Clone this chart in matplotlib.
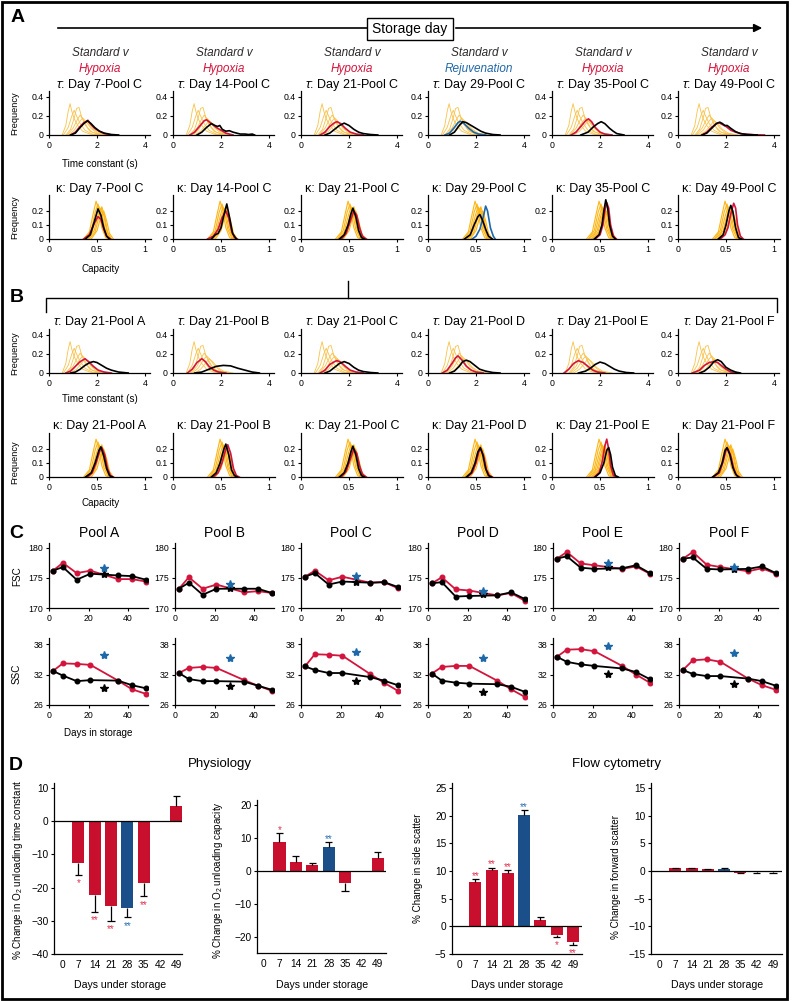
import numpy as np
import matplotlib
matplotlib.use('Agg')
import matplotlib.pyplot as plt
from matplotlib import font_manager as fm
from matplotlib.patches import Rectangle, FancyArrowPatch

names = {f.name for f in fm.fontManager.ttflist}
SANS = 'Liberation Sans'
HAS_NARROW = 'Liberation Sans Narrow' in names
NARROW = 'Liberation Sans Narrow' if HAS_NARROW else 'Liberation Sans'
NK = 1.0 if HAS_NARROW else 0.95   # shrink labels a little when no condensed face

plt.rcParams['font.family'] = [SANS, 'DejaVu Sans']
plt.rcParams['mathtext.fontset'] = 'custom'
plt.rcParams['mathtext.rm'] = SANS
plt.rcParams['mathtext.it'] = SANS + ':italic'
plt.rcParams['axes.linewidth'] = 0.9

RED = '#D3143C'
BLUE = '#1F68A8'
YEL_T = '#F9C24A'
YEL_K = '#FDB515'
BAR_RED = '#C8102E'
BAR_BLUE = '#1B4F8A'
STAR_RED = '#E3304F'
STAR_BLUE = '#2A6EB5'

# ---------------- data: panel A / B distributions (x, freq) ----------------
A_DAYS = [7, 14, 21, 29, 35, 49]
A_TREAT = ['Hypoxia', 'Hypoxia', 'Hypoxia', 'Rejuvenation', 'Hypoxia', 'Hypoxia']
B_POOLS = ['A', 'B', 'C', 'D', 'E', 'F']

# fresh reference distributions (yellow), same in every panel
TAU_REF = [
    [(0.55, 0), (0.7, 0.1), (0.8, 0.25), (0.88, 0.33), (0.95, 0.25), (1.05, 0.17), (1.2, 0.1), (1.4, 0.04), (1.7, 0.01), (2.0, 0)],
    [(0.6, 0), (0.8, 0.08), (0.95, 0.2), (1.05, 0.26), (1.15, 0.2), (1.3, 0.12), (1.5, 0.05), (1.8, 0.01), (2.1, 0)],
    [(0.7, 0), (0.9, 0.06), (1.05, 0.18), (1.15, 0.28), (1.25, 0.29), (1.35, 0.2), (1.5, 0.11), (1.7, 0.04), (2.0, 0.01), (2.3, 0)],
    [(0.75, 0), (1.0, 0.07), (1.2, 0.17), (1.3, 0.21), (1.45, 0.15), (1.6, 0.08), (1.8, 0.03), (2.2, 0)],
    [(0.8, 0), (1.05, 0.05), (1.25, 0.13), (1.4, 0.18), (1.55, 0.14), (1.75, 0.07), (2.0, 0.02), (2.4, 0)],
    [(0.9, 0), (1.15, 0.04), (1.35, 0.1), (1.5, 0.15), (1.65, 0.12), (1.85, 0.06), (2.1, 0.02), (2.5, 0)],
]
KAP_REF = [
    [(0.36, 0), (0.42, 0.05), (0.46, 0.18), (0.49, 0.27), (0.52, 0.2), (0.55, 0.08), (0.59, 0.01), (0.62, 0)],
    [(0.38, 0), (0.44, 0.06), (0.48, 0.19), (0.51, 0.25), (0.54, 0.18), (0.57, 0.07), (0.61, 0.01), (0.64, 0)],
    [(0.39, 0), (0.45, 0.05), (0.49, 0.16), (0.52, 0.23), (0.55, 0.19), (0.58, 0.08), (0.62, 0.01), (0.65, 0)],
    [(0.41, 0), (0.47, 0.06), (0.51, 0.17), (0.54, 0.22), (0.57, 0.17), (0.6, 0.06), (0.64, 0)],
    [(0.42, 0), (0.48, 0.05), (0.52, 0.16), (0.55, 0.23), (0.58, 0.16), (0.61, 0.05), (0.65, 0)],
    [(0.44, 0), (0.5, 0.06), (0.54, 0.16), (0.57, 0.2), (0.6, 0.13), (0.63, 0.04), (0.67, 0)],
]

A_TAU_STD = [
    [(0.9, 0), (1.1, 0.02), (1.3, 0.08), (1.45, 0.12), (1.6, 0.15), (1.75, 0.12), (1.9, 0.08), (2.1, 0.04), (2.3, 0.02), (2.6, 0.005), (2.9, 0)],
    [(1.0, 0), (1.2, 0.03), (1.4, 0.08), (1.6, 0.12), (1.75, 0.1), (1.85, 0.09), (1.95, 0.1), (2.05, 0.06), (2.2, 0.04), (2.35, 0.045), (2.5, 0.03), (2.65, 0.02), (2.8, 0.01), (3.0, 0.01), (3.15, 0.005), (3.3, 0.01), (3.4, 0)],
    [(1.0, 0), (1.2, 0.02), (1.4, 0.06), (1.6, 0.1), (1.8, 0.125), (2.0, 0.1), (2.2, 0.06), (2.4, 0.03), (2.6, 0.015), (2.9, 0.005), (3.2, 0)],
    [(0.9, 0), (1.1, 0.03), (1.3, 0.1), (1.45, 0.14), (1.6, 0.13), (1.8, 0.1), (2.0, 0.07), (2.2, 0.04), (2.4, 0.02), (2.7, 0.005), (3.0, 0)],
    [(1.2, 0), (1.5, 0.03), (1.7, 0.08), (1.9, 0.12), (2.05, 0.14), (2.2, 0.12), (2.4, 0.07), (2.55, 0.04), (2.7, 0.015), (3.0, 0)],
    [(1.0, 0), (1.2, 0.02), (1.4, 0.07), (1.6, 0.12), (1.74, 0.135), (1.85, 0.12), (1.95, 0.1), (2.05, 0.1), (2.2, 0.07), (2.4, 0.035), (2.6, 0.015), (2.9, 0.005), (3.3, 0)],
]
A_TAU_TRT = [
    [(0.9, 0), (1.1, 0.03), (1.3, 0.09), (1.45, 0.13), (1.55, 0.14), (1.62, 0.155), (1.75, 0.11), (1.9, 0.07), (2.1, 0.04), (2.3, 0.015), (2.6, 0)],
    [(0.7, 0), (0.9, 0.03), (1.1, 0.09), (1.3, 0.15), (1.4, 0.16), (1.6, 0.12), (1.8, 0.08), (2.0, 0.05), (2.2, 0.02), (2.5, 0)],
    [(0.8, 0), (1.0, 0.03), (1.2, 0.09), (1.4, 0.13), (1.5, 0.14), (1.65, 0.12), (1.85, 0.07), (2.05, 0.03), (2.3, 0.01), (2.6, 0)],
    [(0.7, 0), (0.9, 0.02), (1.1, 0.08), (1.25, 0.13), (1.35, 0.145), (1.5, 0.12), (1.7, 0.07), (1.9, 0.03), (2.1, 0.01), (2.4, 0)],
    [(0.8, 0), (1.0, 0.03), (1.2, 0.09), (1.4, 0.15), (1.52, 0.17), (1.65, 0.14), (1.8, 0.08), (2.0, 0.03), (2.2, 0.01), (2.5, 0)],
    [(1.0, 0), (1.2, 0.03), (1.4, 0.08), (1.6, 0.12), (1.7, 0.13), (1.85, 0.11), (2.0, 0.09), (2.2, 0.05), (2.4, 0.03), (2.7, 0.01), (3.2, 0.002), (3.6, 0)],
]
A_KAP_STD = [
    [(0.38, 0), (0.43, 0.03), (0.47, 0.12), (0.51, 0.215), (0.54, 0.17), (0.57, 0.08), (0.6, 0.02), (0.63, 0)],
    [(0.4, 0), (0.44, 0.03), (0.47, 0.04), (0.5, 0.08), (0.53, 0.17), (0.56, 0.25), (0.59, 0.15), (0.62, 0.04), (0.64, 0.02), (0.66, 0)],
    [(0.4, 0), (0.45, 0.03), (0.49, 0.1), (0.52, 0.18), (0.54, 0.22), (0.57, 0.16), (0.6, 0.06), (0.63, 0.01), (0.66, 0)],
    [(0.38, 0), (0.44, 0.03), (0.48, 0.1), (0.52, 0.16), (0.54, 0.175), (0.57, 0.13), (0.6, 0.07), (0.63, 0.02), (0.67, 0)],
    [(0.44, 0), (0.49, 0.03), (0.52, 0.1), (0.54, 0.2), (0.56, 0.28), (0.58, 0.22), (0.6, 0.1), (0.63, 0.02), (0.66, 0)],
    [(0.42, 0), (0.47, 0.03), (0.5, 0.1), (0.53, 0.2), (0.55, 0.24), (0.57, 0.2), (0.6, 0.08), (0.63, 0.01), (0.66, 0)],
]
A_KAP_TRT = [
    [(0.36, 0), (0.42, 0.03), (0.47, 0.11), (0.51, 0.16), (0.54, 0.14), (0.57, 0.07), (0.6, 0.02), (0.64, 0)],
    [(0.36, 0), (0.42, 0.02), (0.47, 0.07), (0.51, 0.15), (0.55, 0.2), (0.58, 0.15), (0.61, 0.06), (0.64, 0.01), (0.67, 0)],
    [(0.42, 0), (0.47, 0.04), (0.51, 0.12), (0.55, 0.2), (0.58, 0.17), (0.61, 0.08), (0.64, 0.02), (0.68, 0)],
    [(0.46, 0), (0.5, 0.02), (0.54, 0.07), (0.58, 0.17), (0.6, 0.235), (0.62, 0.2), (0.65, 0.08), (0.68, 0.02), (0.7, 0)],
    [(0.45, 0), (0.5, 0.03), (0.53, 0.1), (0.55, 0.2), (0.57, 0.26), (0.59, 0.22), (0.61, 0.1), (0.64, 0.02), (0.67, 0)],
    [(0.44, 0), (0.49, 0.03), (0.52, 0.08), (0.55, 0.18), (0.58, 0.255), (0.6, 0.22), (0.62, 0.1), (0.65, 0.02), (0.68, 0)],
]

B_TAU_STD = [
    [(0.9, 0), (1.1, 0.01), (1.3, 0.04), (1.5, 0.08), (1.7, 0.11), (1.85, 0.12), (2.0, 0.11), (2.2, 0.08), (2.4, 0.05), (2.6, 0.03), (2.9, 0.01), (3.3, 0)],
    [(0.9, 0), (1.2, 0.01), (1.5, 0.04), (1.8, 0.07), (2.1, 0.08), (2.4, 0.075), (2.7, 0.05), (3.0, 0.03), (3.3, 0.01), (3.6, 0)],
    [(1.0, 0), (1.2, 0.02), (1.4, 0.06), (1.6, 0.1), (1.8, 0.12), (2.0, 0.1), (2.2, 0.06), (2.4, 0.03), (2.6, 0.015), (2.9, 0.005), (3.2, 0)],
    [(0.9, 0), (1.1, 0.02), (1.3, 0.07), (1.45, 0.12), (1.6, 0.135), (1.75, 0.12), (1.95, 0.08), (2.15, 0.04), (2.4, 0.02), (2.7, 0.005), (3.0, 0)],
    [(1.1, 0), (1.4, 0.02), (1.6, 0.05), (1.8, 0.09), (2.0, 0.115), (2.2, 0.1), (2.4, 0.07), (2.6, 0.04), (2.8, 0.02), (3.1, 0.005), (3.4, 0)],
    [(0.9, 0), (1.1, 0.02), (1.3, 0.06), (1.5, 0.12), (1.65, 0.14), (1.8, 0.12), (2.0, 0.06), (2.2, 0.03), (2.4, 0.01), (2.6, 0)],
]
B_TAU_TRT = [
    [(0.7, 0), (0.9, 0.02), (1.1, 0.07), (1.3, 0.12), (1.5, 0.15), (1.65, 0.12), (1.85, 0.07), (2.05, 0.03), (2.3, 0.01), (2.6, 0)],
    [(0.6, 0), (0.8, 0.04), (1.0, 0.11), (1.2, 0.15), (1.35, 0.12), (1.5, 0.07), (1.7, 0.03), (1.9, 0.01), (2.2, 0)],
    [(0.8, 0), (1.0, 0.03), (1.2, 0.09), (1.4, 0.12), (1.5, 0.13), (1.65, 0.115), (1.85, 0.07), (2.05, 0.03), (2.3, 0.01), (2.6, 0)],
    [(0.6, 0), (0.8, 0.03), (1.0, 0.1), (1.15, 0.16), (1.25, 0.18), (1.4, 0.14), (1.6, 0.07), (1.8, 0.03), (2.0, 0.01), (2.3, 0)],
    [(0.5, 0), (0.7, 0.04), (0.9, 0.1), (1.1, 0.13), (1.3, 0.11), (1.5, 0.07), (1.7, 0.03), (1.9, 0.01), (2.2, 0)],
    [(0.6, 0), (0.9, 0.03), (1.1, 0.08), (1.3, 0.11), (1.5, 0.12), (1.65, 0.11), (1.8, 0.08), (2.0, 0.04), (2.2, 0.01), (2.5, 0)],
]
B_KAP_STD = [
    [(0.38, 0), (0.44, 0.03), (0.48, 0.1), (0.52, 0.19), (0.54, 0.215), (0.57, 0.15), (0.6, 0.06), (0.63, 0.01), (0.66, 0)],
    [(0.4, 0), (0.45, 0.03), (0.49, 0.1), (0.53, 0.2), (0.55, 0.235), (0.58, 0.16), (0.61, 0.05), (0.64, 0.01), (0.67, 0)],
    [(0.4, 0), (0.45, 0.03), (0.49, 0.1), (0.52, 0.18), (0.54, 0.22), (0.57, 0.16), (0.6, 0.06), (0.63, 0.01), (0.66, 0)],
    [(0.4, 0), (0.45, 0.03), (0.49, 0.1), (0.52, 0.18), (0.545, 0.21), (0.57, 0.16), (0.6, 0.06), (0.63, 0.01), (0.66, 0)],
    [(0.45, 0), (0.5, 0.03), (0.54, 0.1), (0.57, 0.19), (0.59, 0.21), (0.61, 0.16), (0.63, 0.07), (0.66, 0.01), (0.69, 0)],
    [(0.36, 0), (0.42, 0.03), (0.46, 0.1), (0.49, 0.19), (0.51, 0.21), (0.54, 0.16), (0.57, 0.07), (0.6, 0.02), (0.63, 0)],
]
B_KAP_TRT = [
    [(0.4, 0), (0.45, 0.03), (0.49, 0.1), (0.53, 0.19), (0.55, 0.21), (0.58, 0.16), (0.61, 0.06), (0.64, 0.01), (0.67, 0)],
    [(0.42, 0), (0.47, 0.03), (0.51, 0.1), (0.55, 0.2), (0.57, 0.23), (0.6, 0.17), (0.63, 0.06), (0.66, 0.01), (0.69, 0)],
    [(0.42, 0), (0.47, 0.04), (0.51, 0.12), (0.55, 0.2), (0.58, 0.17), (0.61, 0.08), (0.64, 0.02), (0.68, 0)],
    [(0.41, 0), (0.46, 0.03), (0.5, 0.1), (0.53, 0.18), (0.55, 0.2), (0.58, 0.15), (0.61, 0.05), (0.64, 0.01), (0.67, 0)],
    [(0.44, 0), (0.49, 0.03), (0.52, 0.1), (0.55, 0.22), (0.57, 0.27), (0.59, 0.2), (0.61, 0.08), (0.64, 0.01), (0.67, 0)],
    [(0.37, 0), (0.43, 0.03), (0.47, 0.11), (0.5, 0.19), (0.52, 0.2), (0.55, 0.15), (0.58, 0.06), (0.61, 0.01), (0.64, 0)],
]

# ---------------- data: panel C (flow cytometry over storage) ----------------
C_DAYS = [2, 7, 14, 21, 35, 42, 49]
STAR_DAY = 28
FSC_STD = [
    [176.2, 176.8, 174.7, 175.7, 175.4, 175.3, 174.7],
    [173.2, 174.2, 172.2, 173.2, 173.2, 173.2, 172.5],
    [175.2, 175.8, 173.9, 174.4, 174.2, 174.3, 173.5],
    [174.1, 174.3, 171.9, 172.0, 172.1, 172.6, 171.5],
    [178.2, 178.6, 176.7, 176.5, 176.6, 177.1, 175.8],
    [178.2, 178.4, 176.5, 176.4, 176.5, 176.9, 175.8],
]
FSC_HYP = [
    [176.2, 177.5, 175.8, 176.2, 174.8, 174.8, 174.4],
    [173.2, 175.1, 173.2, 173.9, 172.6, 172.8, 172.5],
    [175.2, 176.2, 174.6, 175.2, 174.2, 174.3, 173.3],
    [174.1, 175.1, 173.1, 172.9, 172.1, 172.5, 171.2],
    [178.2, 179.3, 177.4, 177.1, 176.5, 176.9, 175.7],
    [178.2, 179.3, 177.2, 176.8, 176.1, 176.6, 175.7],
]
FSC_REJ28 = [176.6, 174.0, 175.3, 172.8, 177.5, 176.8]
FSC_STD28 = [175.6, 173.4, 174.3, 172.4, 176.8, 176.4]
SSC_STD = [
    [32.7, 31.8, 30.7, 30.9, 30.8, 29.9, 29.3],
    [32.3, 31.1, 30.7, 30.7, 30.6, 29.8, 29.0],
    [33.6, 32.9, 32.3, 32.3, 31.5, 30.8, 29.9],
    [32.2, 30.8, 30.4, 30.2, 30.1, 29.6, 28.6],
    [35.5, 34.5, 34.0, 33.7, 33.2, 32.5, 31.1],
    [32.9, 32.1, 31.7, 31.7, 31.2, 30.7, 29.8],
]
SSC_HYP = [
    [32.7, 34.2, 34.1, 33.9, 30.8, 29.1, 28.2],
    [32.3, 33.3, 33.5, 33.3, 30.9, 29.8, 28.8],
    [33.6, 36.0, 35.9, 35.7, 32.1, 30.4, 28.8],
    [32.2, 33.5, 33.7, 33.7, 30.8, 29.1, 27.6],
    [35.5, 36.9, 37.0, 36.6, 33.7, 32.0, 30.4],
    [32.9, 34.8, 35.0, 34.5, 31.2, 29.9, 29.0],
]
SSC_REJ28 = [35.8, 35.3, 36.4, 35.2, 37.7, 36.2]
SSC_STD28 = [29.4, 29.8, 30.7, 28.5, 32.1, 30.2]

# ---------------- data: panel D (% change vs standard) ----------------
nan = np.nan
D_DAYS = [0, 7, 14, 21, 28, 35, 42, 49]
TAU_CHG = [nan, -12.7, -22.2, -25.5, -26.1, -18.6, nan, 4.7]
TAU_ERR = [nan, 3.5, 5.1, 4.5, 2.8, 4.0, nan, 3.0]
TAU_SIG = ['', '*', '**', '**', '**', '**', '', '']
CAP_CHG = [nan, 8.7, 2.6, 1.6, 7.2, -3.6, nan, 3.8]
CAP_ERR = [nan, 2.7, 1.9, 0.9, 1.4, 2.5, nan, 1.8]
CAP_SIG = ['', '*', '', '', '**', '', '', '']
SSCD_CHG = [nan, 8.1, 10.2, 9.6, 20.1, 1.2, -1.5, -2.8]
SSCD_ERR = [nan, 0.4, 0.4, 0.5, 0.9, 0.4, 0.4, 0.5]
SSCD_SIG = ['', '**', '**', '**', '**', '', '*', '**']
FSCD_CHG = [nan, 0.5, 0.5, 0.35, 0.45, -0.3, -0.2, -0.25]
FSCD_ERR = [nan, 0.1, 0.1, 0.1, 0.1, 0.1, 0.1, 0.1]
FSCD_SIG = ['', '', '', '', '', '', '', '']
REJ_DAY = 28

# ---------------- layout helpers (pixel based) ----------------
W, H = 792, 1001
fig = plt.figure(figsize=(W / 100, H / 100), dpi=100)
COLS = [49, 173, 301, 428, 552, 678]
C_COLS = [49, 175, 301, 428, 553, 679]


def add_px(left, top, right, bottom):
    return fig.add_axes([left / W, 1 - bottom / H, (right - left) / W, (bottom - top) / H])


def style(ax, size=6.3):
    for s in ['top', 'right']:
        ax.spines[s].set_visible(False)
    ax.tick_params(direction='out', length=2.5, width=0.8, pad=1.5, labelsize=size)


def curve(ax, pts, **kw):
    xs, ys = zip(*pts)
    ax.plot(xs, ys, **kw)


def tau_panel(ax, std, trt, col):
    for r in TAU_REF:
        curve(ax, r, color=YEL_T, lw=0.6)
    curve(ax, trt, color=col, lw=1.2)
    curve(ax, std, color='black', lw=1.2)
    ax.set_xlim(0, 4.2)
    ax.set_ylim(0, 0.463)
    ax.set_xticks([0, 2, 4], ['0', '2', '4'])
    ax.set_yticks([0, 0.2, 0.4], ['0', '0.2', '0.4'])
    style(ax)


def kap_panel(ax, std, trt, col, yt=(0, 0.1, 0.2)):
    for r in KAP_REF:
        curve(ax, r, color=YEL_K, lw=0.8)
    curve(ax, trt, color=col, lw=1.2)
    curve(ax, std, color='black', lw=1.2)
    ax.set_xlim(0, 1.06)
    ax.set_ylim(0, 0.314)
    ax.set_xticks([0, 0.5, 1], ['0', '0.5', '1'])
    ax.set_yticks(list(yt), ['%g' % v for v in yt])
    style(ax)


# Panel A
for i, x0 in enumerate(COLS):
    col = BLUE if A_TREAT[i] == 'Rejuvenation' else RED
    ax = add_px(x0, 91, x0 + 100.8, 135)
    tau_panel(ax, A_TAU_STD[i], A_TAU_TRT[i], col)
    ax = add_px(x0, 195, x0 + 101.8, 239)
    kap_panel(ax, A_KAP_STD[i], A_KAP_TRT[i], col, (0, 0.2) if A_DAYS[i] == 35 else (0, 0.1, 0.2))

# Panel B
for i, x0 in enumerate(COLS):
    ax = add_px(x0, 329, x0 + 100.8, 373)
    tau_panel(ax, B_TAU_STD[i], B_TAU_TRT[i], RED)
    ax = add_px(x0, 433, x0 + 101.8, 477)
    kap_panel(ax, B_KAP_STD[i], B_KAP_TRT[i], RED)

# Panel C
for i, x0 in enumerate(C_COLS):
    for (top, bot, std, hyp, rej, s28, ylim, yt) in [
            (543, 608, FSC_STD, FSC_HYP, FSC_REJ28, FSC_STD28, (170, 180.8), [170, 175, 180]),
            (638, 705, SSC_STD, SSC_HYP, SSC_REJ28, SSC_STD28, (26, 39.2), [26, 32, 38])]:
        ax = add_px(x0, top, x0 + 98.75, bot)
        ax.plot(C_DAYS, hyp[i], color=RED, lw=1.3, marker='o', ms=3.3, mec=RED)
        ax.plot(C_DAYS, std[i], color='black', lw=1.3, marker='o', ms=3.3)
        ax.plot([STAR_DAY], [s28[i]], marker='*', ms=6, color='black', ls='none')
        ax.plot([STAR_DAY], [rej[i]], marker='*', ms=6, color=BLUE, ls='none')
        ax.set_xlim(0, 50)
        ax.set_ylim(*ylim)
        ax.set_xticks([0, 20, 40])
        ax.set_yticks(yt)
        style(ax)


# Panel D
def bar_panel(box, xlim, ylim, yticks, vals, errs, sigs):
    ax = add_px(*box)
    x = np.arange(len(D_DAYS))
    v = np.array(vals, float)
    e = np.array(errs, float)
    ok = ~np.isnan(v)
    cols = np.array([BAR_BLUE if d == REJ_DAY else BAR_RED for d in D_DAYS])
    ax.bar(x[ok], v[ok], width=0.74, color=cols[ok], zorder=2)
    sign = np.sign(v[ok])
    end = v[ok] + sign * e[ok]
    ax.vlines(x[ok], v[ok], end, color='black', lw=0.9, zorder=3)
    ax.hlines(end, x[ok] - 0.22, x[ok] + 0.22, color='black', lw=0.9, zorder=3)
    ax.axhline(0, color='black', lw=0.9, zorder=4)
    for xi, en, sg, d, s in zip(x[ok], end, sign, np.array(D_DAYS)[ok], np.array(sigs)[ok]):
        if s:
            c = STAR_BLUE if d == REJ_DAY else STAR_RED
            dy = -8.3 if sg < 0 else 0.2
            ax.annotate(s, (xi, en), xytext=(0, dy), textcoords='offset points',
                        ha='center', va='baseline', color=c, fontsize=7)
    ax.set_xlim(*xlim)
    ax.set_ylim(*ylim)
    ax.set_xticks(x, [str(d) for d in D_DAYS])
    ax.set_yticks(yticks)
    style(ax, 7.3)
    ax.tick_params(axis='x', length=0, pad=4.5)
    return ax


bar_panel((54, 783, 182, 954), (-0.5, 7.35), (-40, 11.5), [-40, -30, -20, -10, 0, 10], TAU_CHG, TAU_ERR, TAU_SIG)
bar_panel((257, 800, 386, 953), (-0.37, 7.5), (-25, 21.5), [-20, -10, 0, 10, 20], CAP_CHG, CAP_ERR, CAP_SIG)
bar_panel((452, 783, 582, 954), (-0.43, 7.55), (-5, 25.9), [-5, 0, 5, 10, 15, 20, 25], SSCD_CHG, SSCD_ERR, SSCD_SIG)
bar_panel((651, 783, 782, 954), (-0.49, 7.55), (-15, 15.9), [-15, -10, -5, 0, 5, 10, 15], FSCD_CHG, FSCD_ERR, FSCD_SIG)

# ---------------- overlay: labels, arrow, bracket, frame ----------------
ov = fig.add_axes([0, 0, 1, 1])
ov.set_xlim(0, W)
ov.set_ylim(H, 0)
ov.axis('off')

for lab, (x, y) in zip('ABCD', [(18, 17), (17, 298), (16, 533), (16, 765)]):
    ov.text(x, y, lab, fontsize=14, fontweight='bold', ha='center', va='center')

# storage-day arrow
ov.plot([58, 367], [28, 28], color='black', lw=1.2)
ov.add_patch(FancyArrowPatch((453, 28), (765, 28), arrowstyle='-|>', mutation_scale=12,
                             color='black', lw=1.2))
ov.add_patch(Rectangle((367, 17.5), 86, 22.5, fill=False, lw=1.0, ec='black'))
ov.text(410, 29, 'Storage day', fontsize=10, ha='center', va='center')

# bracket for panel B
ov.plot([46, 46, 777, 777], [312, 298, 298, 312], color='black', lw=1.0)
ov.plot([348, 348], [281, 298], color='black', lw=1.0)

for i, x0 in enumerate(COLS):
    cx = x0 + 51
    col = BLUE if A_TREAT[i] == 'Rejuvenation' else RED
    ov.text(cx, 53, 'Standard v', fontsize=8.5, style='italic', color='#2b2b2b', ha='center', va='center')
    ov.text(cx, 69, A_TREAT[i], fontsize=8.5, style='italic', color=col, ha='center', va='center')
    ov.text(cx, 85, r'$\tau$: Day %d-Pool C' % A_DAYS[i], fontsize=9, ha='center', va='center')
    ov.text(cx, 189, '\u03ba: Day %d-Pool C' % A_DAYS[i], fontsize=9, ha='center', va='center')
    ov.text(cx, 322, r'$\tau$: Day 21-Pool %s' % B_POOLS[i], fontsize=9, ha='center', va='center')
    ov.text(cx, 426, '\u03ba: Day 21-Pool %s' % B_POOLS[i], fontsize=9, ha='center', va='center')
for i, x0 in enumerate(C_COLS):
    ov.text(x0 + 50, 533, 'Pool %s' % B_POOLS[i], fontsize=10, ha='center', va='center')

nk = dict(family=NARROW, ha='center', va='center')
for y in [113, 217, 353, 462]:
    ov.text(15, y, 'Frequency', fontsize=7 * NK, rotation=90, **nk)
ov.text(100, 164, 'Time constant (s)', fontsize=7.5 * NK, **nk)
ov.text(101, 269, 'Capacity', fontsize=7.5 * NK, **nk)
ov.text(100, 399, 'Time constant (s)', fontsize=7.5 * NK, **nk)
ov.text(101, 503, 'Capacity', fontsize=7.5 * NK, **nk)
ov.text(17, 576, 'FSC', fontsize=7.5 * NK, rotation=90, **nk)
ov.text(17, 674, 'SSC', fontsize=7.5 * NK, rotation=90, **nk)
ov.text(98, 733, 'Days in storage', fontsize=7.5 * NK, **nk)

ov.text(220, 764, 'Physiology', fontsize=9.5, ha='center', va='center')
ov.text(617, 764, 'Flow cytometry', fontsize=9.5, ha='center', va='center')
ylabs = [(18, 870, r'% Change in O$_2$ unloading time constant'),
         (218, 880, r'% Change in O$_2$ unloading capacity'),
         (418, 868, '% Change in side scatter'),
         (616, 877, '% Change in forward scatter')]
for x, y, t in ylabs:
    ov.text(x, y, t, fontsize=7.5 * NK, rotation=90, **nk)
for x in [120, 322, 517, 717]:
    ov.text(x, 985, 'Days under storage', fontsize=8 * NK, **nk)

ov.add_patch(Rectangle((1.5, 1.5), 785, 997.5, fill=False, lw=2, ec='black'))

fig.savefig('out.png', dpi=100)
